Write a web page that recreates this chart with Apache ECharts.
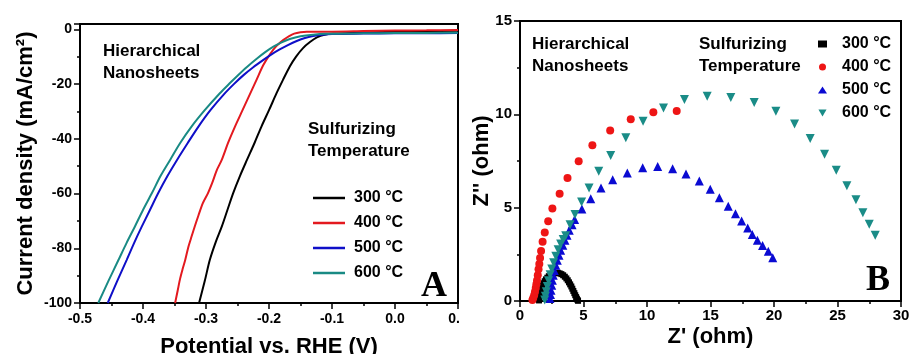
<!DOCTYPE html>
<html>
<head>
<meta charset="utf-8">
<script src="https://cdn.jsdelivr.net/npm/echarts@6/dist/echarts.min.js"></script>
<style>
html,body{margin:0;padding:0;background:#fff;}
#a{position:absolute;left:0;top:0;width:460px;height:354px;}
#b{position:absolute;left:460px;top:0;width:449px;height:354px;}
</style>
</head>
<body>
<div id="a"></div>
<div id="b"></div>
<script>
// ---------- data ----------
const seriesNames = ['300 °C', '400 °C', '500 °C', '600 °C'];

// Panel A: polarization curves [potential (V vs RHE), current density (mA/cm2)]
const lsv300 = [[-0.311,-100],[-0.302,-92],[-0.294,-84.3],[-0.285,-78],[-0.275,-72.1],[-0.266,-66],[-0.257,-59.9],[-0.246,-53.5],[-0.235,-47.7],[-0.223,-41.5],[-0.212,-35.5],[-0.200,-29.5],[-0.188,-23.3],[-0.178,-18.5],[-0.167,-13.5],[-0.157,-9.9],[-0.146,-6.8],[-0.135,-4.6],[-0.124,-2.9],[-0.112,-1.9],[-0.098,-1.5],[-0.07,-1.3],[-0.03,-1.0],[0.0,-0.8],[0.05,-0.6],[0.1,-0.5]];
const lsv400 = [[-0.349,-100],[-0.345,-95.5],[-0.341,-91],[-0.337,-87.5],[-0.333,-84.3],[-0.328,-79.5],[-0.324,-76.5],[-0.318,-72.1],[-0.312,-68],[-0.305,-63.5],[-0.297,-59.9],[-0.290,-56],[-0.283,-51.5],[-0.275,-47.7],[-0.265,-41.5],[-0.254,-35.5],[-0.242,-29.5],[-0.231,-24.0],[-0.220,-18.5],[-0.209,-13.0],[-0.198,-8.9],[-0.188,-6.0],[-0.177,-3.8],[-0.168,-2.4],[-0.160,-1.5],[-0.150,-1.0],[-0.14,-0.8],[-0.10,-0.8],[-0.05,-0.6],[0.0,-0.4],[0.05,-0.3],[0.1,-0.2]];
const lsv500 = [[-0.456,-100],[-0.441,-92],[-0.426,-84.3],[-0.414,-78],[-0.402,-72.1],[-0.389,-66],[-0.376,-59.9],[-0.361,-53.5],[-0.346,-47.7],[-0.329,-41.5],[-0.312,-35.5],[-0.293,-29.5],[-0.272,-23.8],[-0.255,-19.8],[-0.240,-16.6],[-0.225,-13.8],[-0.210,-11.3],[-0.196,-9.1],[-0.183,-7.3],[-0.170,-5.7],[-0.156,-4.2],[-0.143,-3.1],[-0.130,-2.4],[-0.115,-1.9],[-0.100,-1.65],[-0.05,-1.5],[0.0,-1.4],[0.05,-1.4],[0.1,-1.3]];
const lsv600 = [[-0.471,-100],[-0.455,-92],[-0.439,-84.3],[-0.426,-78],[-0.413,-72.1],[-0.400,-66],[-0.386,-59.9],[-0.372,-53.5],[-0.357,-47.7],[-0.341,-41.5],[-0.323,-35.5],[-0.302,-29.5],[-0.278,-23.3],[-0.262,-19.6],[-0.250,-16.9],[-0.235,-13.7],[-0.220,-10.8],[-0.206,-8.3],[-0.193,-6.3],[-0.180,-4.7],[-0.167,-3.5],[-0.150,-2.5],[-0.130,-1.9],[-0.110,-1.6],[-0.05,-1.4],[0.0,-1.3],[0.05,-1.25],[0.1,-1.2]];

// Panel B: Nyquist plots [Z' (ohm), Z'' (ohm)]
const eis300 = [[1.50,0.03],[1.52,0.15],[1.55,0.28],[1.59,0.42],[1.64,0.56],[1.70,0.70],[1.77,0.83],[1.85,0.95],[1.94,1.06],[2.04,1.16],[2.15,1.25],[2.27,1.33],[2.40,1.40],[2.54,1.45],[2.68,1.49],[2.83,1.51],[2.98,1.51],[3.12,1.48],[3.26,1.44],[3.40,1.38],[3.53,1.30],[3.65,1.21],[3.76,1.11],[3.86,1.00],[3.95,0.89],[4.04,0.78],[4.12,0.66],[4.20,0.54],[4.28,0.42],[4.35,0.31],[4.42,0.21],[4.48,0.12],[4.53,0.05],[4.57,0.01]];
const eis400 = [[0.98,0.06],[1.05,0.18],[1.12,0.32],[1.18,0.50],[1.24,0.70],[1.29,0.90],[1.34,1.10],[1.40,1.38],[1.46,1.70],[1.52,1.98],[1.58,2.30],[1.66,2.68],[1.78,3.18],[1.95,3.67],[2.22,4.27],[2.55,4.95],[3.12,5.75],[3.74,6.59],[4.62,7.48],[5.70,8.34],[7.10,9.13],[8.72,9.74],[10.50,10.11],[12.34,10.18]];
const eis500 = [[2.36,0.13],[2.40,0.35],[2.44,0.57],[2.50,0.85],[2.55,1.11],[2.62,1.38],[2.70,1.64],[2.82,1.92],[2.94,2.18],[3.07,2.45],[3.20,2.72],[3.37,2.98],[3.54,3.25],[3.70,3.52],[3.88,3.79],[4.10,4.08],[4.30,4.36],[4.87,4.93],[5.57,5.48],[6.38,6.05],[7.30,6.50],[8.45,6.86],[9.66,7.14],[10.84,7.21],[12.02,7.09],[13.07,6.80],[14.12,6.43],[14.98,5.98],[15.70,5.53],[16.40,5.07],[16.97,4.68],[17.45,4.28],[17.93,3.91],[18.29,3.56],[18.69,3.25],[19.10,2.97],[19.55,2.66],[19.90,2.32]];
const eis600 = [[1.95,0.05],[2.00,0.25],[2.07,0.50],[2.15,0.78],[2.25,1.08],[2.37,1.40],[2.50,1.72],[2.65,2.05],[2.82,2.40],[3.00,2.75],[3.20,3.05],[3.40,3.30],[3.60,3.50],[3.94,4.08],[4.33,4.64],[4.85,5.30],[5.44,6.05],[6.20,6.95],[7.14,7.80],[8.33,8.75],[9.69,9.63],[11.30,10.34],[12.95,10.79],[14.74,10.97],[16.60,10.90],[18.44,10.64],[20.15,10.16],[21.62,9.48],[22.85,8.70],[23.98,7.86],[24.90,7.00],[25.74,6.18],[26.45,5.43],[27.00,4.73],[27.50,4.11],[27.97,3.52]];

// axis ranges [min, max, interval]
const axisAx = [-0.5, 0.1, 0.1];
const axisAy = [-100, 2, 20];
const axisBx = [0, 30, 5];
const axisBy = [0, 15, 5];

// ---------- styles ----------
const FONT = 'Liberation Sans, Arial, sans-serif';
const colorsA = ['#000000', '#e3191f', '#0f0fc8', '#198a84'];
const colorsB = ['#000000', '#ee1515', '#0a0ad2', '#1a8c87'];

function axisCommon(r, fmt, labelSize, margin) {
  return {
    min: r[0], max: r[1], interval: r[2],
    nameMoveOverlap: false,
    axisLine: {show: true, onZero: false, lineStyle: {color: '#000', width: 2}},
    axisTick: {show: true, inside: false, length: 6, lineStyle: {color: '#000', width: 1.5}},
    minorTick: {show: true, splitNumber: 2, length: 3, lineStyle: {color: '#000', width: 1.5}},
    splitLine: {show: false},
    axisLabel: {color: '#000', fontFamily: FONT, fontWeight: 'bold', fontSize: labelSize, margin: margin, formatter: fmt},
    nameTextStyle: {color: '#000', fontFamily: FONT, fontWeight: 'bold', fontSize: 22}
  };
}
function txt(x, y, s, size, font) {
  return {type: 'text', x: x, y: y, style: {text: s, fill: '#000', font: 'bold ' + size + 'px ' + (font || FONT), verticalAlign: 'middle', textVerticalAlign: 'middle'}};
}

// ---------- chart A ----------
const chartA = echarts.init(document.getElementById('a'));
const xA = axisCommon(axisAx, v => v.toFixed(1), 14, 9);
Object.assign(xA, {type: 'value', name: 'Potential vs. RHE (V)', nameLocation: 'middle', nameGap: 33});
const yA = axisCommon(axisAy, v => String(Math.round(v)), 14, 8);
Object.assign(yA, {type: 'value', name: 'Current density (mA/cm²)', nameLocation: 'middle', nameGap: 43});
yA.axisLabel.showMaxLabel = false;
chartA.setOption({
  animation: false,
  grid: {left: 80, top: 24, right: 2, bottom: 51, containLabel: false, outerBoundsMode: 'none', show: true, borderColor: '#000', borderWidth: 2},
  xAxis: xA,
  yAxis: yA,
  legend: {
    orient: 'vertical', left: 313, top: 190, padding: 0, icon: 'rect', itemWidth: 32, itemHeight: 2.5, itemGap: 9,
    textStyle: {color: '#000', fontFamily: FONT, fontWeight: 'bold', fontSize: 16, lineHeight: 16, padding: [0, 0, 0, 4]},
    data: seriesNames
  },
  graphic: [
    txt(103, 51, 'Hierarchical', 17), txt(103, 73, 'Nanosheets', 17),
    txt(308, 129, 'Sulfurizing', 17), txt(308, 151, 'Temperature', 17),
    txt(421, 287, 'A', 36, 'Liberation Serif, Times New Roman, serif')
  ],
  series: [lsv300, lsv400, lsv500, lsv600].map((d, i) => ({
    name: seriesNames[i], type: 'line', data: d, symbol: 'none', smooth: 0.3,
    lineStyle: {color: colorsA[i], width: 2}, itemStyle: {color: colorsA[i]}
  }))
});

// ---------- chart B ----------
const chartB = echarts.init(document.getElementById('b'));
const xB = axisCommon(axisBx, v => String(v), 15, 7);
Object.assign(xB, {type: 'value', name: "Z' (ohm)", nameLocation: 'middle', nameGap: 25});
const yB = axisCommon(axisBy, v => String(v), 15, 8);
Object.assign(yB, {type: 'value', name: "Z'' (ohm)", nameLocation: 'middle', nameGap: 27});
const symbolsB = ['rect', 'circle', 'triangle', 'path://M0,0L20,0L10,17.3Z'];
const sizesB = [6, 8, 9, 9];
chartB.setOption({
  animation: false,
  grid: {left: 60, top: 21, right: 8, bottom: 53, containLabel: false, outerBoundsMode: 'none', show: true, borderColor: '#000', borderWidth: 2},
  xAxis: xB,
  yAxis: yB,
  legend: {
    orient: 'vertical', left: 358, top: 36, padding: 0, itemWidth: 9, itemHeight: 7, itemGap: 7,
    textStyle: {color: '#000', fontFamily: FONT, fontWeight: 'bold', fontSize: 16, lineHeight: 16, padding: [0, 0, 0, 10]},
    data: seriesNames
  },
  graphic: [
    txt(72, 44, 'Hierarchical', 17), txt(72, 66, 'Nanosheets', 17),
    txt(239, 44, 'Sulfurizing', 17), txt(239, 66, 'Temperature', 17),
    txt(406, 281, 'B', 36, 'Liberation Serif, Times New Roman, serif')
  ],
  series: [eis300, eis400, eis500, eis600].map((d, i) => ({
    name: seriesNames[i], type: 'scatter', data: d, symbol: symbolsB[i], symbolSize: sizesB[i],
    itemStyle: {color: colorsB[i], opacity: 1}
  }))
});
</script>
</body>
</html>
